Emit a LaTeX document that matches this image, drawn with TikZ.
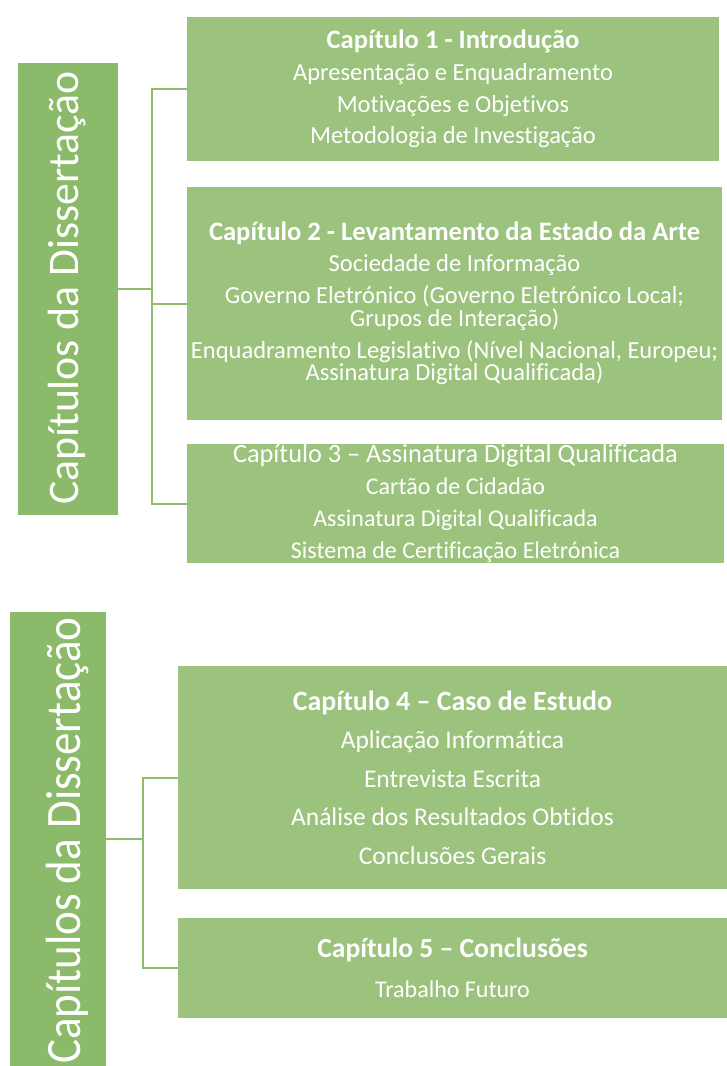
\documentclass[tikz,border=0pt]{standalone}
\usepackage{fontspec}
\setmainfont{Carlito}[Ligatures=NoCommon]
\definecolor{bargreen}{HTML}{8BBA6A}
\definecolor{boxgreen}{HTML}{9CC37E}
\definecolor{linegreen}{HTML}{8FBC6E}
\newcommand{\ttl}[2]{{\fontsize{#1}{#1}\selectfont #2}}
\newcommand{\tightls}{\lineskiplimit=-50pt\relax}
\begin{document}
\begin{tikzpicture}[x=1pt,y=-1pt,
  panel/.style={fill=boxgreen, draw=none, inner sep=0pt, outer sep=0pt, anchor=north west},
  sidebar/.style={fill=bargreen, draw=none, inner sep=0pt, outer sep=0pt, anchor=north west},
  txt/.style={text=white, align=center, inner sep=0pt},
  vtxt/.style={text=white, inner sep=0pt, rotate=90},
  conn/.style={draw=linegreen, line width=2pt}]
\useasboundingbox (0,0) rectangle (727,1066);
% top group
\node[sidebar, minimum width=100pt, minimum height=452pt] (bar1) at (18,63) {};
\node[panel, minimum width=532pt, minimum height=144pt] (b1) at (187,17) {};
\node[panel, minimum width=535pt, minimum height=233pt] (b2) at (187,187) {};
\node[panel, minimum width=537pt, minimum height=119pt] (b3) at (187,444) {};
\node[vtxt, anchor=base west, font=\fontsize{43.7}{44}\selectfont] (v1) at (78,505) {Capítulos da Dissertação};
\node[txt, font=\fontsize{24.5}{31.7}\selectfont] (t1) at (b1.center)
  {\ttl{26.6}{\bfseries Capítulo 1 - Introdução}\\Apresentação e Enquadramento\\Motivações e Objetivos\\Metodologia de Investigação};
\node[txt, font={\fontsize{24.5}{22.5}\selectfont\tightls}] (t2) at (b2.center)
  {\ttl{26.6}{\bfseries Capítulo 2 - Levantamento da Estado da Arte}\\[9pt]Sociedade de Informação\\[9.5pt]Governo Eletrónico (Governo Eletrónico Local;\\Grupos de Interação)\\[9.5pt]Enquadramento Legislativo (Nível Nacional, Europeu;\\Assinatura Digital Qualificada)};
\node[txt, font=\fontsize{24}{32}\selectfont] (t3) at (b3.center)
  {\ttl{26.3}{Capítulo 3 – Assinatura Digital Qualificada}\\Cartão de Cidadão\\Assinatura Digital Qualificada\\Sistema de Certificação Eletrónica};
\coordinate (j1) at (152,289);
\draw[conn] (bar1.east) -- (j1);
\draw[conn] (b1.west) -- (b1.west -| j1) -- (b3.west -| j1) -- (b3.west);
\draw[conn] (b2.west) -- (b2.west -| j1);
% bottom group
\node[sidebar, minimum width=96pt, minimum height=460pt] (bar2) at (10,612) {};
\node[panel, minimum width=549pt, minimum height=223pt] (b4) at (178,666) {};
\node[panel, minimum width=549pt, minimum height=100pt] (b5) at (178,918) {};
\node[vtxt, anchor=base east, font=\fontsize{45}{45}\selectfont] (v2) at (80,617) {\scalebox{1}[1.1]{Capítulos da Dissertação}};
\node[txt, font=\fontsize{25.5}{38.5}\selectfont] (t4) at (b4.center)
  {\ttl{27.9}{\bfseries Capítulo 4 – Caso de Estudo}\\Aplicação Informática\\Entrevista Escrita\\Análise dos Resultados Obtidos\\Conclusões Gerais};
\node[txt, font=\fontsize{24}{40}\selectfont] (t5) at (b5.center)
  {\ttl{27.6}{\bfseries Capítulo 5 – Conclusões}\\Trabalho Futuro};
\coordinate (j2) at (143,839);
\draw[conn] (bar2.east |- j2) -- (j2);
\draw[conn] (b4.west) -- (b4.west -| j2) -- (b5.west -| j2) -- (b5.west);
\end{tikzpicture}
\end{document}
